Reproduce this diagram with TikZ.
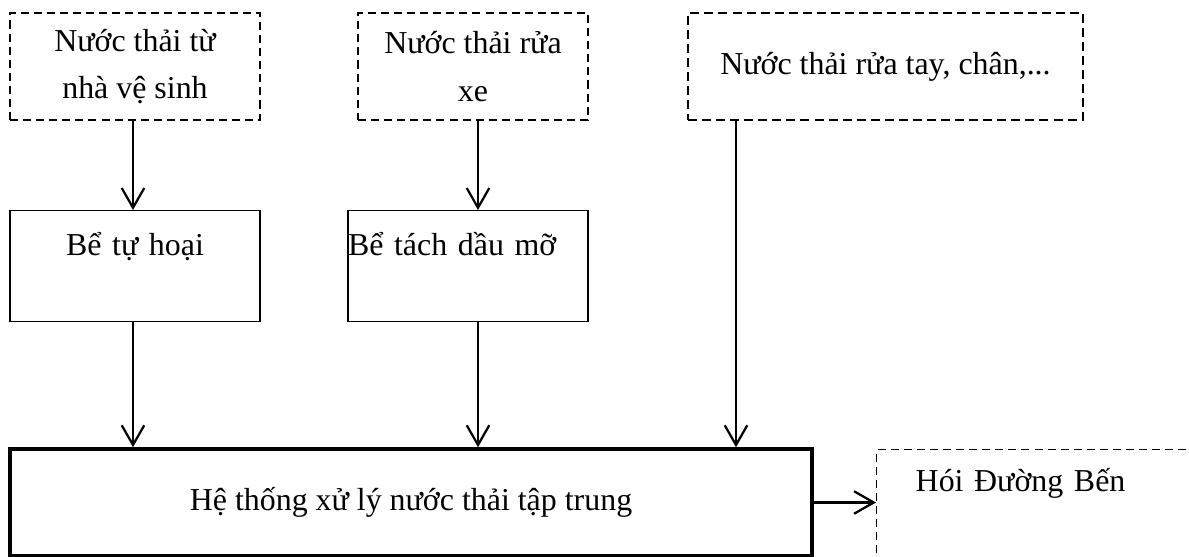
\documentclass[tikz,border=0pt]{standalone}
\usepackage{fontspec}
\setmainfont{Liberation Serif}
\usetikzlibrary{calc,arrows.meta}

\begin{document}
\begin{tikzpicture}[
    font=\fontsize{22.7}{34}\selectfont,
    src/.style={draw, line width=1pt, dash pattern=on 5.7pt off 3.6pt, align=center, inner sep=0pt, minimum height=2.675cm},
    tank/.style={draw, line width=1pt, inner sep=0pt, anchor=north, text height=1.125cm, text depth=1.65cm},
    flow/.style={-{Straight Barb[length=14pt,width=16pt,line width=1.6pt]}, line width=1.6pt}
  ]
            \useasboundingbox (0,0) rectangle (29.725,-13.925);
            \clip (0,0) rectangle (29.725,-13.925);

            \node[src, minimum width=6.25cm] (nvs) at (3.375,-1.6625) {Nước thải từ\\nhà vệ sinh};
            \node[src, minimum width=5.75cm] (nrx) at (11.825,-1.6625) {Nước thải rửa\\xe};
            \node[src, line width=2pt, dash pattern=on 6.4pt off 3.6pt, minimum width=9.875cm] (nrt) at (22.1375,-1.6625) {Nước thải rửa tay, chân,...};

            \node[tank, text width=6.25cm, align=center] (bth) at (3.375,-5.25) {Bể tự hoại};
            \node[tank, text width=6cm, align=left] (btd) at (11.7,-5.25) {Bể tách dầu mỡ};

            \node[draw, line width=2.5pt, minimum width=20.05cm, minimum height=2.675cm] (xl) at (10.275,-12.5625) {Hệ thống xử lý nước thải tập trung};
            \node[draw, line width=1pt, dash pattern=on 5.7pt off 3.6pt, anchor=north west, inner xsep=0.975cm, inner ysep=0pt,
                  text width=7.5cm, text height=1.05cm, text depth=2.5cm] (hdb) at (21.9,-11.225) {Hói Đường Bến};

            \coordinate (c1) at (3.325,0);
            \coordinate (c2) at (11.95,0);
            \coordinate (c3) at (18.4,0);

            \draw [flow] (nvs.south -| c1) -- (bth.north -| c1);
            \draw [flow] (nrx.south -| c2) -- (btd.north -| c2);
            \draw [flow] (bth.south -| c1) -- (xl.north -| c1);
            \draw [flow] (btd.south -| c2) -- (xl.north -| c2);
            \draw [flow] (nrt.south -| c3) -- (xl.north -| c3);
            \draw [flow] (xl.east) -- (xl.east -| hdb.west);
        \end{tikzpicture}
\end{document}
